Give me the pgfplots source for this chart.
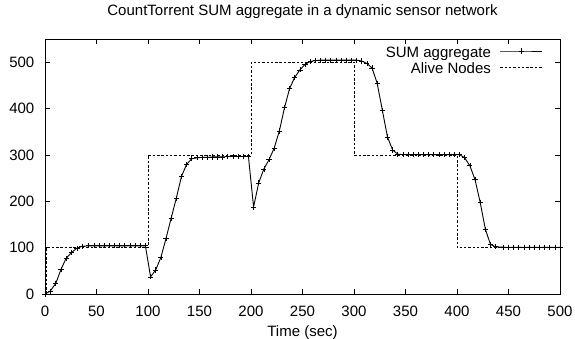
\documentclass[border=0pt]{standalone}
\usepackage{pgfplots}
\pgfplotsset{compat=1.18}
\usepackage{fontspec}
\setmainfont{Liberation Sans}
\begin{document}
\begin{tikzpicture}
\path[use as bounding box] (-45pt,-45pt) rectangle (530pt,294pt);
\begin{axis}[
  at={(0pt,0pt)}, anchor=south west,
  scale only axis, width=515pt, height=254.7pt,
  xmin=0, xmax=500, ymin=0, ymax=550,
  xtick={0,50,...,500}, ytick={0,100,...,500},
  tick align=inside, major tick length=5pt,
  axis line style={line width=0.8pt},
  tick style={line width=0.6pt, black},
  /pgf/number format/assume math mode=true,
  every tick label/.append style={font=\fontsize{15}{18}\selectfont, inner sep=0pt},
  xticklabel style={anchor=base, yshift=-22.4pt},
  yticklabel style={anchor=east, xshift=-10.5pt},
  xlabel={Time (sec)},
  xlabel style={font=\fontsize{15}{18}\selectfont, at={(axis description cs:0.5,0)}, anchor=base, yshift=-42pt, inner sep=0pt},
  title={CountTorrent SUM aggregate in a dynamic sensor network},
  title style={font=\fontsize{15}{18}\selectfont, at={(axis description cs:0.5,1)}, anchor=base, yshift=18pt, inner sep=0pt},
  legend style={draw=none, fill=none, at={(1,1)}, anchor=north east, xshift=-17pt, yshift=-7pt,
    font=\fontsize{15}{18}\selectfont, row sep=1pt, inner sep=0pt,
    nodes={inner sep=0pt, text height=11pt, text depth=4pt},
    /tikz/every odd column/.style={column sep=9pt}},
  legend cell align=right, legend plot pos=right,
  legend image code/.code={\draw[mark repeat=2,mark phase=2,#1] plot coordinates {(0pt,0.3em) (21pt,0.3em) (42pt,0.3em)};},
]
\addplot[black, line width=0.9pt, mark=+, mark size=2.6pt, mark options={line width=0.7pt, solid}] coordinates {
(0,0) (5,6) (10.5,23) (15.5,53) (20.5,77) (26,90) (31,99) (36,103)
(42.5,104) (47.5,104) (52.5,104) (57.5,104) (62.5,104) (67.5,104) (72.5,104) (77.5,104) (82.5,104) (87.5,104) (92.5,104) (97.5,104)
(102.5,37) (107.5,52) (112.5,79) (117.5,120) (122.5,164) (127.5,207) (132.5,254) (137.5,280) (142.5,292) (147.5,294)
(152.5,295) (157.5,295) (162.5,296) (167.5,296) (172.5,296) (177.5,297) (182.5,297) (187.5,297) (192.5,297) (197.5,297)
(202.5,188) (207.5,240) (212.5,270) (217.5,290) (222.5,315) (227.5,352) (232.5,402) (237.5,444) (242.5,468) (247.5,484)
(252.5,496) (257.5,502) (262.5,504) (267.5,505) (272.5,505) (277.5,505) (282.5,505) (287.5,505) (292.5,505) (297.5,505)
(302.5,505) (307.5,503) (312.5,498) (317.5,488) (322.5,455) (327.5,397) (332.5,339) (337.5,311) (342.5,302) (347.5,301)
(352.5,301) (357.5,301) (362.5,301) (367.5,301) (372.5,301) (377.5,301) (382.5,301) (387.5,301) (392.5,301) (397.5,301)
(402.5,301) (407.5,294) (412.5,277) (417.5,247) (422.5,198) (427.5,140) (432.5,107) (437.5,102)
(445,101) (450,101) (455,101) (460,101) (465,101) (470,101) (475,101) (480,101) (485,101) (490,101) (495,101) (500,101)
};
\addlegendentry{SUM aggregate}
\addplot[black, line width=0.7pt, dash pattern=on 2.5pt off 1.8pt] coordinates {
(1.5,0) (1.5,100) (100,100) (100,300) (200,300) (200,500) (300,500) (300,300) (400,300) (400,100) (500,100)
};
\addlegendentry{Alive Nodes}
\end{axis}
\end{tikzpicture}
\end{document}
